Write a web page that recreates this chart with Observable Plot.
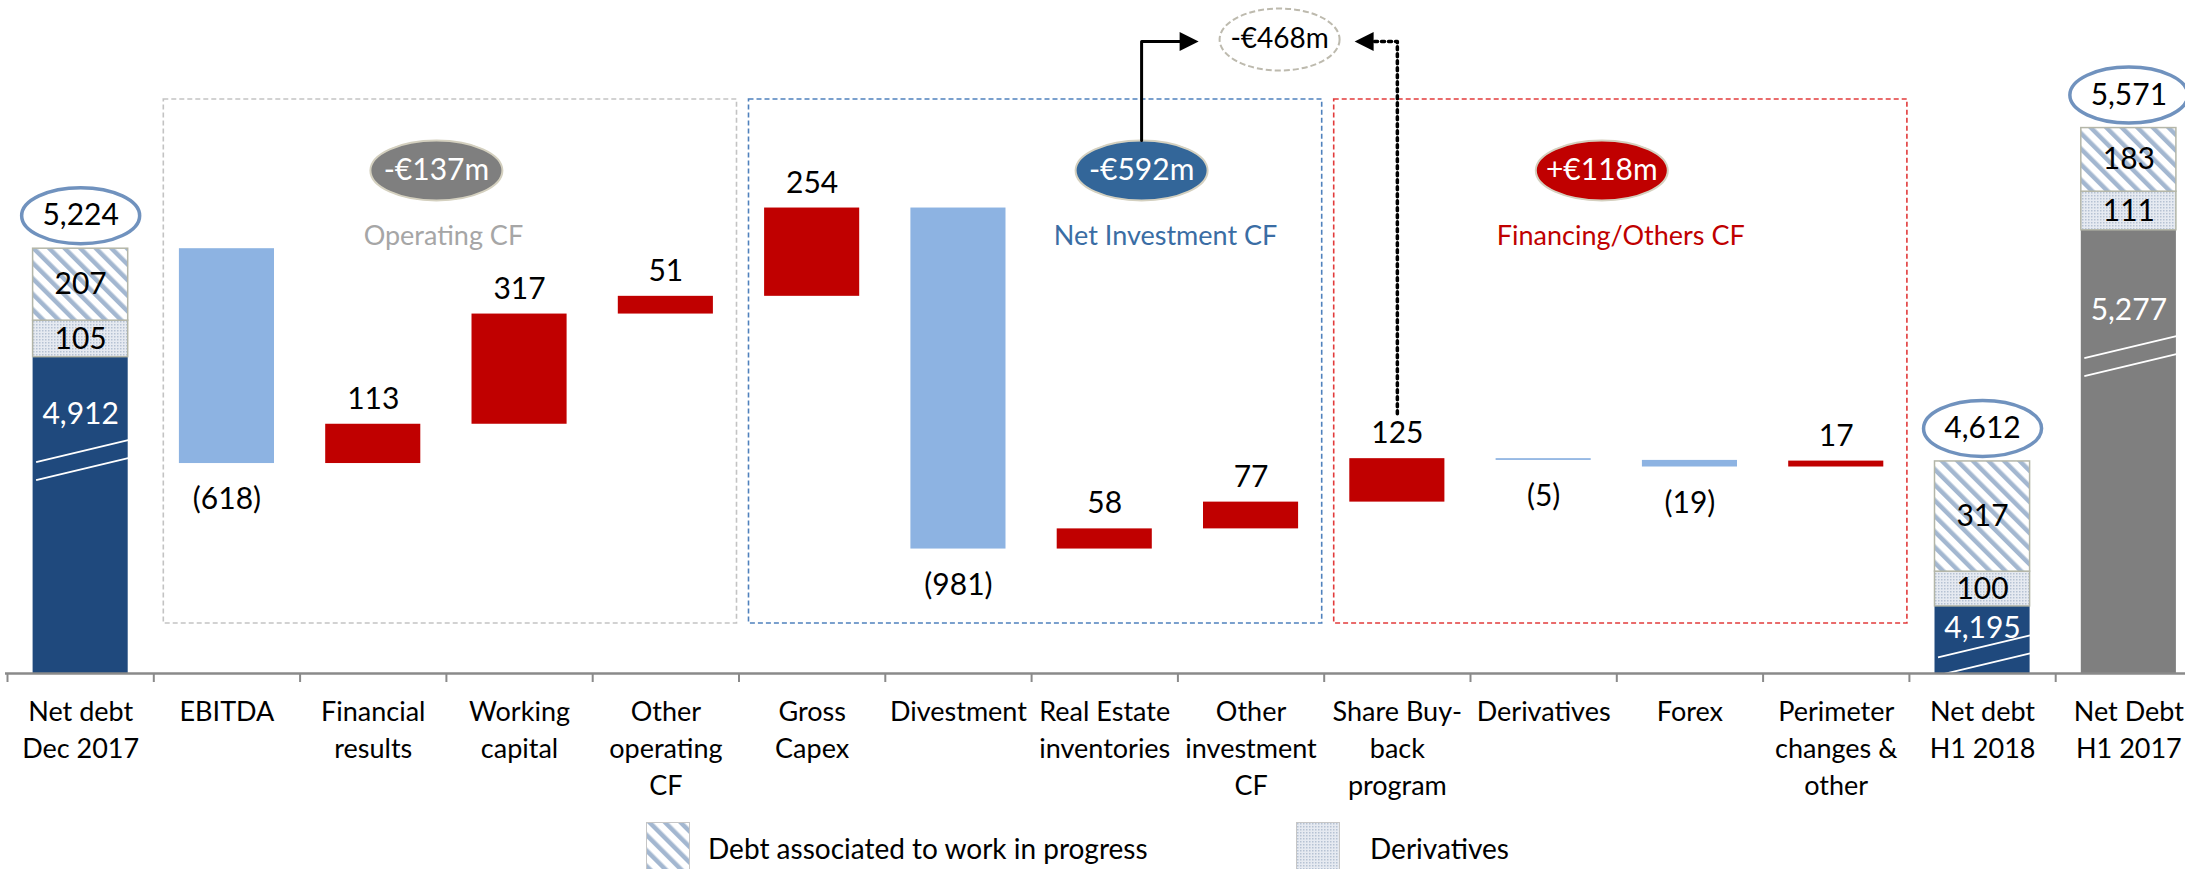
<!DOCTYPE html>
<html><head><meta charset="utf-8">
<script src="https://cdn.jsdelivr.net/npm/d3@7"></script>
<script src="https://cdn.jsdelivr.net/npm/@observablehq/plot@0.6"></script>
<style>
html,body{margin:0;padding:0;background:#fff;}
body{width:2185px;height:869px;overflow:hidden;font-family:Lato,"Open Sans",sans-serif;}
#legend{position:relative;width:2185px;height:54px;}
.sw{position:absolute;top:7px;width:44px;height:50px;box-sizing:border-box;border:1px solid #c6c6c6;}
.lt{position:absolute;top:16px;font-size:28px;line-height:34px;color:#000;white-space:nowrap;}
</style></head><body>
<div id="chart"></div>
<div id="legend">
  <svg class="sw" style="left:646px"><rect width="100%" height="100%" fill="url(#hatchWip)"/></svg>
  <span class="lt" id="lg0" style="left:708px"></span>
  <svg class="sw" style="left:1296px"><rect width="100%" height="100%" fill="url(#dotDeriv)"/></svg>
  <span class="lt" id="lg1" style="left:1370px"></span>
</div>
<script>
// ---------------- DATA ----------------
const categories = ["Net debt Dec 2017","EBITDA","Financial results","Working capital","Other operating CF","Gross Capex","Divestment","Real Estate inventories","Other investment CF","Share Buy-back program","Derivatives","Forex","Perimeter changes & other","Net debt H1 2018","Net Debt H1 2017"];
const tickLabels = ["Net debt\nDec 2017","EBITDA","Financial\nresults","Working\ncapital","Other\noperating\nCF","Gross\nCapex","Divestment","Real Estate\ninventories","Other\ninvestment\nCF","Share Buy-\nback\nprogram","Derivatives","Forex","Perimeter\nchanges &\nother","Net debt\nH1 2018","Net Debt\nH1 2017"];

const totalCategories = ["Net debt Dec 2017","Net debt H1 2018","Net Debt H1 2017"];
const totalNetDebt   = [5224, 4612, 5571];
const netDebtCore    = [4912, 4195, 5277];
const derivativesDebt= [105, 100, 111];
const wipDebt        = [207, 317, 183];

const flowCategories = ["EBITDA","Financial results","Working capital","Other operating CF","Gross Capex","Divestment","Real Estate inventories","Other investment CF","Share Buy-back program","Derivatives","Forex","Perimeter changes & other"];
const flowValues     = [-618, 113, 317, 51, 254, -981, 58, 77, 125, -5, -19, 17];

const groupNames  = ["Operating CF","Net Investment CF","Financing/Others CF"];
const groupTotals = ["-€137m","-€592m","+€118m"];
const groupFirst  = ["EBITDA","Gross Capex","Share Buy-back program"];
const groupLast   = ["Other operating CF","Other investment CF","Perimeter changes & other"];
const investPlusBuybackTotal = "-€468m";
const legendLabels = ["Debt associated to work in progress","Derivatives"];

// ---------------- LAYOUT / STYLE ----------------
const W = 2185, H = 815;
const X0 = 7, STEP = 146.3, AXIS_PX = 673;
const Y_MIN = 4002, Y_MAX = 5938;
const K = AXIS_PX / (Y_MAX - Y_MIN);
const pxToV = px => Y_MAX - px / K;
const vToPx = v => (Y_MAX - v) * K;
const dpx = px => px / K;      // pixel length -> value units
const bpx = px => px / STEP;   // pixel length -> band units
const HALF = 0.325;
const idx = c => categories.indexOf(c);
const FONT = "Lato, 'Open Sans', sans-serif";
const RED = "#c00000", LBLUE = "#8db3e2", DBLUE = "#1f497d", GREY = "#7f7f7f";
const VFS = 30; // value label font size
const groupStyle = [
  {pill: "#7f7f7f", label: "#a6a6a6", box: "#c3c3c3", pillDx: -10, labelDx: -3},
  {pill: "#336699", label: "#3a6da4", box: "#4f81bd", pillDx: 110, labelDx: 134},
  {pill: "#c00000", label: "#c00000", box: "#e23b3b", pillDx: -15, labelDx: 4}
];

function ellipse(rx, ry) {
  const k = 0.5522847;
  return {draw(ctx) {
    ctx.moveTo(rx, 0);
    ctx.bezierCurveTo(rx, ry * k, rx * k, ry, 0, ry);
    ctx.bezierCurveTo(-rx * k, ry, -rx, ry * k, -rx, 0);
    ctx.bezierCurveTo(-rx, -ry * k, -rx * k, -ry, 0, -ry);
    ctx.bezierCurveTo(rx * k, -ry, rx, -ry * k, rx, 0);
    ctx.closePath();
  }};
}
const headRight = {draw(ctx) { ctx.moveTo(0, 0); ctx.lineTo(-19, -9.5); ctx.lineTo(-19, 9.5); ctx.closePath(); }};
const headLeft  = {draw(ctx) { ctx.moveTo(0, 0); ctx.lineTo(19, -9.5); ctx.lineTo(19, 9.5); ctx.closePath(); }};

// ---------------- DERIVED TABLES ----------------
let level = totalNetDebt[0];
const flows = flowCategories.map((c, k) => {
  const v = flowValues[k];
  const r = {i: idx(c), y1: level, y2: level + v, v, label: v < 0 ? `(${-v})` : `${v}`};
  level += v;
  return r;
});

const totals = totalCategories.map((c, k) => {
  const d = {i: idx(c), total: totalNetDebt[k], base: netDebtCore[k], der: derivativesDebt[k], wip: wipDebt[k],
             color: k === 2 ? GREY : DBLUE};
  const top = vToPx(d.base), h = AXIS_PX - top;
  const lab = top + Math.max(22, 0.18 * h);
  const brk = lab + Math.min(46, 0.6 * (AXIS_PX - lab));
  d.labV = pxToV(lab); d.brkV = pxToV(brk);
  return d;
});

const groups = groupNames.map((n, k) => {
  const c = (idx(groupFirst[k]) + idx(groupLast[k])) / 2;
  return {name: n, total: groupTotals[k], x1: idx(groupFirst[k]) - 0.5, x2: idx(groupLast[k]) + 0.5,
          pillX: c + bpx(groupStyle[k].pillDx), labelX: c + bpx(groupStyle[k].labelDx), ...groupStyle[k]};
});

const axisRows = categories.map((c, i) => ({i, label: tickLabels[i]}));

// annotation geometry
const PILL_Y = pxToV(170), GLABEL_Y = pxToV(236), ARROW_Y = pxToV(41);
const invPillX = groups[1].pillX;
const buyback = flows.find(d => d.i === idx("Share Buy-back program"));
const ovalX = invPillX + bpx(138);
const solidTip = ovalX - bpx(81);
const dottedTip = ovalX + bpx(75);
const solidPath = [[invPillX, pxToV(140)], [invPillX, ARROW_Y], [solidTip - bpx(12), ARROW_Y]];
const dottedPath = [[buyback.i, pxToV(vToPx(buyback.y2) - 45)], [buyback.i, ARROW_Y], [dottedTip + bpx(12), ARROW_Y]];

const plot = Plot.plot({
  width: W, height: H,
  marginTop: 0, marginBottom: H - AXIS_PX, marginLeft: X0, marginRight: 0,
  x: {type: "linear", domain: [-0.5, 14.5], range: [X0, X0 + 15 * STEP], axis: null},
  y: {domain: [Y_MIN, Y_MAX], range: [AXIS_PX, 0], axis: null},
  color: {type: "identity"},
  style: {fontFamily: FONT, background: "white", color: "black"},
  marks: [
    // dashed group boxes
    Plot.rect(groups, {x1: "x1", x2: "x2", y1: () => pxToV(623), y2: () => pxToV(99), insetLeft: 10, insetRight: 2,
      fill: "none", stroke: "box", strokeWidth: 1.6, strokeDasharray: "5,3"}),
    // waterfall flows
    Plot.rect(flows, {x1: d => d.i - HALF, x2: d => d.i + HALF, y1: "y1", y2: "y2", fill: d => d.v > 0 ? RED : LBLUE}),
    Plot.text(flows.filter(d => d.v > 0), {x: "i", y: "y2", text: "label", dy: -25, fontSize: VFS}),
    Plot.text(flows.filter(d => d.v < 0), {x: "i", y: "y2", text: "label", dy: 36, fontSize: VFS}),
    // stacked totals
    Plot.rect(totals, {x1: d => d.i - HALF, x2: d => d.i + HALF, y1: () => Y_MIN, y2: "base", fill: "color"}),
    Plot.rect(totals, {x1: d => d.i - HALF, x2: d => d.i + HALF, y1: "base", y2: d => d.base + d.der,
      fill: "url(#dotDeriv)", stroke: "#b4b6a8", strokeWidth: 1.5}),
    Plot.rect(totals, {x1: d => d.i - HALF, x2: d => d.i + HALF, y1: d => d.base + d.der, y2: "total",
      fill: "url(#hatchWip)", stroke: "#b4b6a8", strokeWidth: 1.5}),
    Plot.link(totals, {x1: d => d.i - HALF + bpx(3), x2: d => d.i + HALF, y1: d => d.brkV - dpx(11), y2: d => d.brkV + dpx(11),
      stroke: "white", strokeWidth: 1.8, dy: -9}),
    Plot.link(totals, {x1: d => d.i - HALF + bpx(3), x2: d => d.i + HALF, y1: d => d.brkV - dpx(11), y2: d => d.brkV + dpx(11),
      stroke: "white", strokeWidth: 1.8, dy: 9}),
    Plot.text(totals, {x: "i", y: "labV", text: d => d3.format(",")(d.base), fill: "white", fontSize: VFS}),
    Plot.text(totals, {x: "i", y: d => d.base + d.der / 2, text: "der", fontSize: VFS}),
    Plot.text(totals, {x: "i", y: d => d.base + d.der + d.wip / 2, text: "wip", fontSize: VFS}),
    Plot.dot(totals, {x: "i", y: "total", dy: -33, symbol: ellipse(59, 28), fill: "white", stroke: "#7092be", strokeWidth: 3.5}),
    Plot.text(totals, {x: "i", y: "total", dy: -33, text: d => d3.format(",")(d.total), fontSize: VFS}),
    // axis
    Plot.ruleY([Y_MIN], {x1: -0.5 - bpx(2), x2: 14.5, stroke: "#8a8a8a", strokeWidth: 2.5}),
    Plot.ruleX(d3.range(15).map(i => i - 0.5), {x: d => d, y1: () => Y_MIN, y2: () => Y_MIN - dpx(9), stroke: "#8a8a8a", strokeWidth: 2}),
    Plot.text(axisRows, {x: "i", y: () => Y_MIN, text: "label", lineAnchor: "top", dy: 21, fontSize: 27, lineHeight: 1.37}),
    // group pills & labels
    Plot.dot(groups, {x: "pillX", y: () => PILL_Y, symbol: ellipse(66, 30), fill: "pill", stroke: "#d4d0bf", strokeWidth: 2}),
    Plot.text(groups, {x: "pillX", y: () => PILL_Y, text: "total", fill: "white", fontSize: 30}),
    Plot.text(groups, {x: "labelX", y: () => GLABEL_Y, text: "name", fill: "label", fontSize: 27}),
    // arrows to the -€468m oval
    Plot.line(solidPath, {x: d => d[0], y: d => d[1], stroke: "black", strokeWidth: 3, curve: "linear"}),
    Plot.dot([[solidTip, ARROW_Y]], {x: d => d[0], y: d => d[1], symbol: headRight, fill: "black", stroke: "none"}),
    Plot.line(dottedPath, {x: d => d[0], y: d => d[1], stroke: "black", strokeWidth: 3.5, strokeDasharray: "3,4", curve: "linear"}),
    Plot.dot([[dottedTip, ARROW_Y]], {x: d => d[0], y: d => d[1], symbol: headLeft, fill: "black", stroke: "none"}),
    Plot.dot([[ovalX, pxToV(39)]], {x: d => d[0], y: d => d[1], symbol: ellipse(60, 31), fill: "white", stroke: "#bdbaae", strokeWidth: 2, strokeDasharray: "6,3"}),
    Plot.text([[ovalX, pxToV(39)]], {x: d => d[0], y: d => d[1], text: () => investPlusBuybackTotal, fontSize: 28})
  ]
});

d3.select(plot).insert("defs", ":first-child").html(
  `<pattern id="hatchWip" patternUnits="userSpaceOnUse" width="11" height="11" patternTransform="rotate(-45)">
     <rect width="11" height="11" fill="#ffffff"/><rect width="4.5" height="11" fill="#a3b7d0"/></pattern>
   <pattern id="dotDeriv" patternUnits="userSpaceOnUse" width="3" height="3">
     <rect width="3" height="3" fill="#e6eaf1"/><rect width="1.5" height="1.5" fill="#b6c2d3"/></pattern>`);
document.getElementById("chart").appendChild(plot);
document.getElementById("lg0").textContent = legendLabels[0];
document.getElementById("lg1").textContent = legendLabels[1];
</script>
</body></html>
